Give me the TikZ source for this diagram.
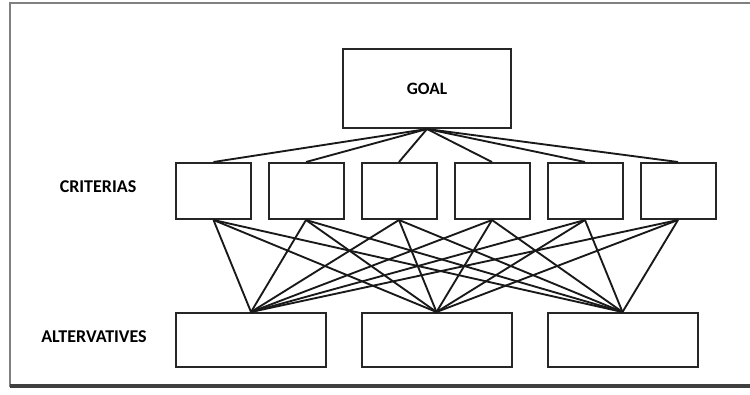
\documentclass[tikz,border=0pt]{standalone}
\usepackage{fontspec}
\setmainfont{Carlito}
\tikzset{
  critbox/.style={draw=black!85, line width=1.5pt, fill=white, inner sep=0pt,
    minimum width=75*0.75pt, minimum height=56*0.75pt},
  altbox/.style={critbox, minimum width=150*0.75pt, minimum height=54*0.75pt},
  goalbox/.style={critbox, minimum width=168*0.75pt, minimum height=79*0.75pt,
    font=\fontsize{13}{15}\selectfont\bfseries},
  link/.style={line width=1.4pt, draw=black!90},
  levellabel/.style={font=\fontsize{13.5}{15}\selectfont\bfseries}
}
\begin{document}
\begin{tikzpicture}[x=0.75pt, y=-0.75pt]
  \useasboundingbox (0,0) rectangle (750,394);
  % frame
  \draw[draw=black!50, line width=1pt] (750,3) -- (10,3) -- (10,387);
  \draw[draw=black!75, line width=2.4pt] (10,386) -- (750,386);

  \node[goalbox] (goal) at (427,88.5) {GOAL};
  \foreach \i/\cx in {1/213.5,2/306,3/399,4/492,5/585,6/678}
    \node[critbox] (crit\i) at (\cx,191) {};
  \foreach \j/\cx in {1/251,2/436.5,3/622.5}
    \node[altbox] (alt\j) at (\cx,340) {};

  \node[levellabel] (critlabel) at (98,187) {CRITERIAS};
  \node[levellabel] (altlabel) at (94,337) {ALTERVATIVES};

  % goal -> criteria -> alternatives
  \foreach \i in {1,...,6} {
    \draw[link] (goal.south) -- (crit\i.north);
    \foreach \j in {1,2,3}
      \draw[link] (crit\i.south) -- (alt\j.north);
  }
\end{tikzpicture}
\end{document}
